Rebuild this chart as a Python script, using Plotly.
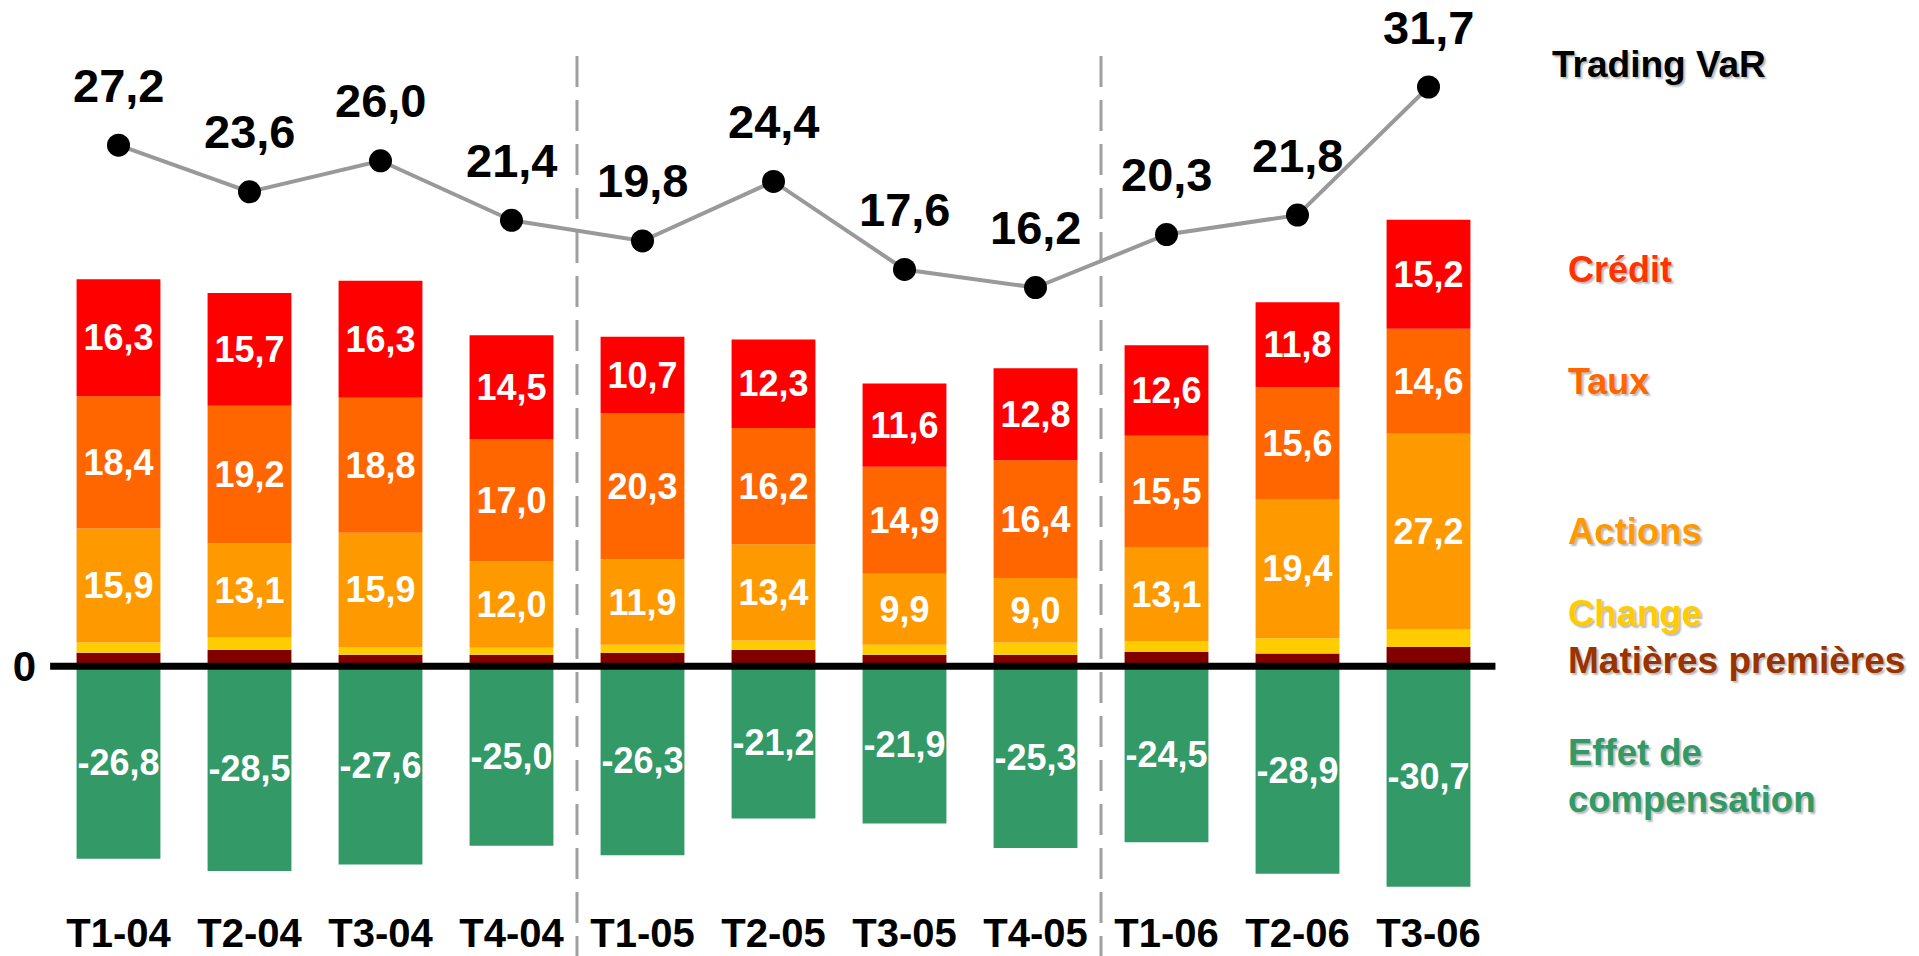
import plotly.graph_objects as go

categories = ["T1-04", "T2-04", "T3-04", "T4-04", "T1-05", "T2-05", "T3-05", "T4-05", "T1-06", "T2-06", "T3-06"]
credit = [16.3, 15.7, 16.3, 14.5, 10.7, 12.3, 11.6, 12.8, 12.6, 11.8, 15.2]
taux = [18.4, 19.2, 18.8, 17.0, 20.3, 16.2, 14.9, 16.4, 15.5, 15.6, 14.6]
actions = [15.9, 13.1, 15.9, 12.0, 11.9, 13.4, 9.9, 9.0, 13.1, 19.4, 27.2]
change = [1.4, 1.7, 1.1, 1.0, 1.1, 1.3, 1.4, 1.7, 1.5, 2.1, 2.5]
matieres = [1.9, 2.3, 1.6, 1.6, 1.9, 2.3, 1.6, 1.6, 2.0, 1.8, 2.7]
compensation = [-26.8, -28.5, -27.6, -25.0, -26.3, -21.2, -21.9, -25.3, -24.5, -28.9, -30.7]
trading_var = [27.2, 23.6, 26.0, 21.4, 19.8, 24.4, 17.6, 16.2, 20.3, 21.8, 31.7]
year_breaks = [3.5, 7.5]

FONT = "Arial, Liberation Sans, sans-serif"


def fr(v):
    return f"{v:.1f}".replace(".", ",")


W, H = 1919, 956
ML, MR, MT, MB = 53, 425, 0, 50
PH = H - MT - MB
Y0, SC = 666.3, 7.18
Y2_0, SC2 = 497.2, 12.94

fig = go.Figure()

series = [
    ("Matières premières", matieres, "#800000", False),
    ("Change", change, "#FFCC00", False),
    ("Actions", actions, "#FF9900", True),
    ("Taux", taux, "#FF6600", True),
    ("Crédit", credit, "#FF0000", True),
    ("Effet de compensation", compensation, "#339966", True),
]
for name, vals, col, lab in series:
    fig.add_trace(go.Bar(
        x=categories, y=vals, name=name, marker=dict(color=col, line=dict(width=0)),
        text=[fr(v) for v in vals] if lab else None,
        textposition="inside" if lab else "none",
        insidetextanchor="middle", constraintext="none", textangle=0,
        textfont=dict(family=FONT, size=36, color="white", weight="bold"),
        hoverinfo="skip",
    ))

fig.add_trace(go.Scatter(
    x=categories, y=trading_var, yaxis="y2", mode="lines+markers",
    line=dict(color="#999999", width=4),
    marker=dict(color="black", size=23),
    name="Trading VaR", hoverinfo="skip",
))

for c, v in zip(categories, trading_var):
    fig.add_annotation(x=c, y=v, xref="x", yref="y2", text=fr(v), showarrow=False,
                       yshift=60, font=dict(family=FONT, size=47, color="black", weight="bold"))

# zero line
fig.add_shape(type="line", xref="paper", yref="y", x0=-0.002, x1=1.001, y0=0, y1=0,
              line=dict(color="black", width=7), layer="above")

# year dividers
for xb in year_breaks:
    fig.add_shape(type="line", xref="x", yref="paper", x0=xb, x1=xb,
                  y0=(PH - 56) / PH, y1=-0.06,
                  line=dict(color="#A0A0A0", width=3, dash="31px,13px"), layer="below")


def px2py(p):
    return (PH - p) / PH


def px2pxx(p):
    return (p - ML) / (W - ML - MR)


shadow = "2px 2px 2px rgba(0,0,0,0.28)"
labels = [
    ("Trading VaR", 1550, 64, "black", 37),
    ("Crédit", 1566, 270, "#FF3300", 36),
    ("Taux", 1566, 381, "#FF6600", 36),
    ("Actions", 1566, 531, "#FF9900", 36.5),
    ("Change", 1566, 613, "#FFCC00", 36.5),
    ("Matières premières", 1566, 660, "#993300", 37),
    ("Effet de<br>compensation", 1566, 776, "#339966", 36.5),
]
for t, xp, yp, col, sz in labels:
    fig.add_annotation(x=px2pxx(xp), y=px2py(yp), xref="paper", yref="paper", text=t,
                       showarrow=False, xanchor="left", yanchor="middle", align="left",
                       font=dict(family=FONT, size=sz, color=col, weight="bold", shadow=shadow))

fig.update_layout(
    width=W, height=H, autosize=False,
    margin=dict(l=ML, r=MR, t=MT, b=MB, pad=0, autoexpand=False),
    paper_bgcolor="white", plot_bgcolor="white",
    barmode="relative", bargap=0.36, showlegend=False,
    xaxis=dict(type="category", range=[-0.5, 10.5], showgrid=False, zeroline=False,
               showline=False, ticks="", ticklabelstandoff=0, automargin=False,
               tickfont=dict(family=FONT, size=40, color="black", weight="bold")),
    yaxis=dict(range=[(Y0 - PH) / SC, Y0 / SC], showgrid=False, zeroline=False,
               showline=False, ticks="", tickvals=[0], ticktext=["0"], ticklabelstandoff=16,
               automargin=False,
               tickfont=dict(family=FONT, size=42, color="black", weight="bold")),
    yaxis2=dict(range=[(Y2_0 - PH) / SC2, Y2_0 / SC2], overlaying="y", visible=False),
)

fig.write_html("out.html")
